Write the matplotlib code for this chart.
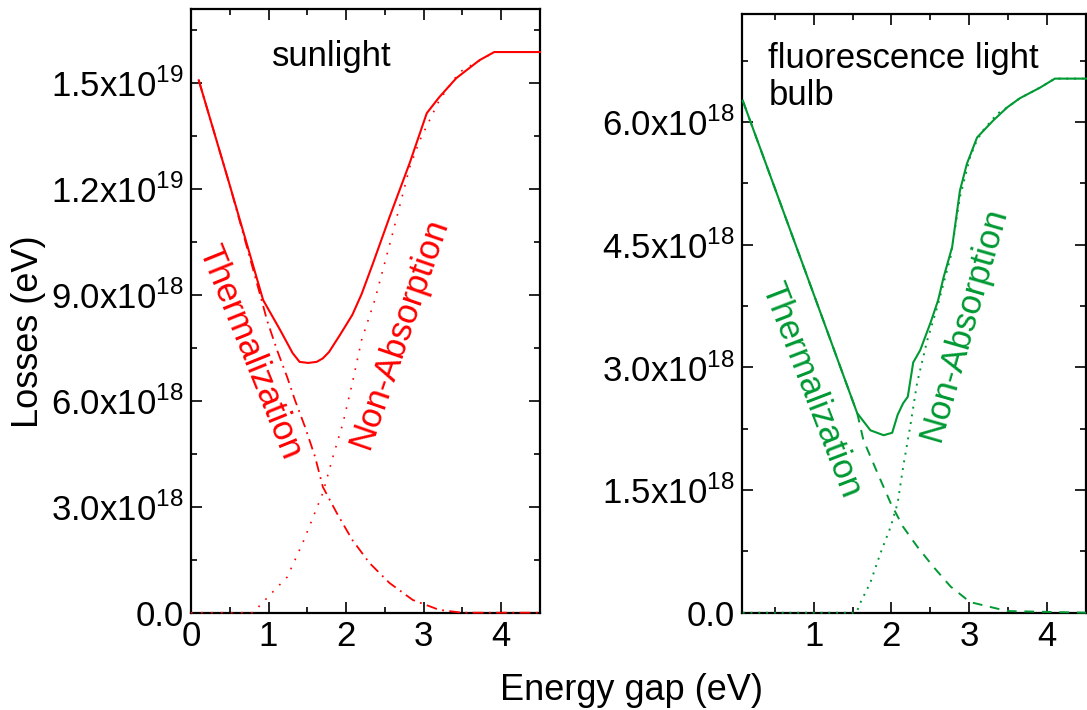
import matplotlib
matplotlib.use("Agg")
import matplotlib.pyplot as plt
from matplotlib.ticker import FixedLocator, FixedFormatter, MultipleLocator

plt.rcParams['font.family'] = ['Liberation Sans', 'DejaVu Sans']
plt.rcParams['mathtext.fontset'] = 'custom'
plt.rcParams['mathtext.rm'] = 'Liberation Sans'

SCALE = 1e18  # valores en unidades de 1e18 eV

# --- Panel izquierdo: luz solar ---
sun_total_x = [0.10, 0.50, 0.93, 1.15, 1.31, 1.40, 1.51, 1.62, 1.70, 1.78, 1.92, 2.08, 2.20,
               2.34, 2.56, 2.82, 3.04, 3.20, 3.42, 3.72, 3.91, 4.50]
sun_total_y = [15.07, 12.10, 8.85, 8.00, 7.35, 7.10, 7.07, 7.10, 7.20, 7.38, 7.86, 8.43, 9.02,
               9.85, 11.20, 12.73, 14.14, 14.59, 15.13, 15.64, 15.87, 15.87]

sun_therm_x = [0.10, 0.50, 0.91, 0.98, 1.11, 1.24, 1.34, 1.47, 1.60, 1.70, 1.88, 2.08, 2.30,
               2.56, 2.86, 3.20, 3.50, 4.50]
sun_therm_y = [15.07, 12.10, 8.85, 8.28, 7.43, 6.67, 6.02, 5.26, 4.41, 3.56, 2.82, 2.06, 1.41,
               0.84, 0.36, 0.08, 0.0, 0.0]

sun_nonabs_x = [0.0, 0.80, 0.99, 1.24, 1.44, 1.57, 1.70, 1.83, 1.96, 2.08, 2.20, 2.37, 2.60,
                2.82, 2.95, 3.20, 3.46, 3.91, 4.50]
sun_nonabs_y = [0.0, 0.0, 0.44, 1.01, 1.97, 2.68, 3.39, 4.41, 5.37, 6.50, 7.72, 8.85, 10.74,
                12.61, 13.37, 14.50, 15.30, 15.87, 15.87]

# --- Panel derecho: bombilla fluorescente ---
fl_total_x = [0.09, 1.03, 1.56, 1.73, 1.90, 2.01, 2.08, 2.15, 2.21, 2.28, 2.37, 2.50, 2.60,
              2.67, 2.78, 2.88, 2.97, 3.10, 3.31, 3.49, 3.65, 3.91, 4.10, 4.50]
fl_total_y = [6.26, 3.82, 2.44, 2.23, 2.17, 2.20, 2.42, 2.56, 2.64, 3.06, 3.21, 3.54, 3.82,
              4.10, 4.47, 5.16, 5.49, 5.81, 6.02, 6.18, 6.29, 6.42, 6.53, 6.53]

fl_therm_x = [0.09, 1.03, 1.56, 1.58, 1.64, 1.82, 1.99, 2.15, 2.33, 2.54, 2.76, 3.01, 3.27,
              3.49, 4.50]
fl_therm_y = [6.26, 3.82, 2.44, 2.36, 2.11, 1.71, 1.34, 1.05, 0.81, 0.56, 0.32, 0.13, 0.07,
              0.02, 0.0]

fl_nonabs_x = [0.09, 1.55, 1.60, 1.73, 1.86, 1.99, 2.08, 2.15, 2.24, 2.33, 2.46, 2.59, 2.76,
               2.88, 3.01, 3.10, 3.18, 3.36, 3.49, 3.65, 3.91, 4.10, 4.50]
fl_nonabs_y = [0.0, 0.0, 0.12, 0.37, 0.73, 1.05, 1.34, 1.78, 2.27, 2.81, 3.33, 3.74, 4.35,
               5.08, 5.57, 5.78, 5.90, 6.10, 6.18, 6.29, 6.42, 6.53, 6.53]

# --- Ticks ---
x_ticks_left = [0, 1, 2, 3, 4]
x_labels_left = ['0', '1', '2', '3', '4']
x_ticks_right = [1, 2, 3, 4]
x_labels_right = ['1', '2', '3', '4']

y_ticks_left = [0, 3, 6, 9, 12, 15]
y_labels_left = ['0.0', r'3.0x10$^{\mathregular{18}}$', r'6.0x10$^{\mathregular{18}}$',
                 r'9.0x10$^{\mathregular{18}}$', r'1.2x10$^{\mathregular{19}}$',
                 r'1.5x10$^{\mathregular{19}}$']
y_ticks_right = [0, 1.5, 3.0, 4.5, 6.0]
y_labels_right = ['0.0', r'1.5x10$^{\mathregular{18}}$', r'3.0x10$^{\mathregular{18}}$',
                  r'4.5x10$^{\mathregular{18}}$', r'6.0x10$^{\mathregular{18}}$']

RED = '#ff0000'
GREEN = '#009933'
FS = 25


def scaled(vals):
    return [v * SCALE for v in vals]


def style_axes(ax, xt, xl, yt, yl, ymin_step):
    ax.xaxis.set_major_locator(FixedLocator(xt))
    ax.xaxis.set_major_formatter(FixedFormatter(xl))
    ax.xaxis.set_minor_locator(MultipleLocator(0.5))
    ax.yaxis.set_major_locator(FixedLocator(scaled(yt)))
    ax.yaxis.set_major_formatter(FixedFormatter(yl))
    ax.yaxis.set_minor_locator(MultipleLocator(ymin_step * SCALE))
    ax.tick_params(which='both', direction='in', top=True, right=True, width=1.2,
                   labelsize=FS, pad=5)
    ax.tick_params(which='major', length=8)
    ax.tick_params(which='minor', length=4.5)
    for s in ax.spines.values():
        s.set_linewidth(1.6)


fig = plt.figure(figsize=(10.87, 7.10), dpi=100)
ax1 = fig.add_axes([191 / 1087, 1 - 612.7 / 710, 349 / 1087, 603.4 / 710])
ax2 = fig.add_axes([742 / 1087, 1 - 612.7 / 710, 344 / 1087, 598.7 / 710])

# panel izquierdo
ax1.plot(sun_total_x, scaled(sun_total_y), color=RED, lw=1.5, clip_on=False, zorder=3)
ax1.plot(sun_therm_x, scaled(sun_therm_y), color=RED, lw=1.3, linestyle=(0, (6, 3, 1, 3)),
         clip_on=False, zorder=3)
ax1.plot(sun_nonabs_x, scaled(sun_nonabs_y), color=RED, lw=1.2, linestyle=(0, (1, 5)),
         clip_on=False, zorder=3)
ax1.set_xlim(0, 4.5)
ax1.set_ylim(0, 17.08 * SCALE)
style_axes(ax1, x_ticks_left, x_labels_left, y_ticks_left, y_labels_left, 1.5)

ax1.text(1.81, 15.74 * SCALE, 'sunlight', fontsize=FS, ha='center', va='center')
ax1.text(0.76, 7.38 * SCALE, 'Thermalization', fontsize=FS, color=RED, rotation=-68,
         ha='center', va='center')
ax1.text(2.68, 7.92 * SCALE, 'Non-Absorption', fontsize=FS, color=RED, rotation=71,
         ha='center', va='center')

# panel derecho
ax2.plot(fl_total_x, scaled(fl_total_y), color=GREEN, lw=1.5, clip_on=False, zorder=3)
ax2.plot(fl_therm_x, scaled(fl_therm_y), color=GREEN, lw=1.4, linestyle=(0, (5, 4)),
         clip_on=False, zorder=3)
ax2.plot(fl_nonabs_x, scaled(fl_nonabs_y), color=GREEN, lw=1.4, linestyle=(0, (1, 3)),
         clip_on=False, zorder=3)
ax2.set_xlim(0.08, 4.5)
ax2.set_ylim(0, 7.32 * SCALE)
style_axes(ax2, x_ticks_right, x_labels_right, y_ticks_right, y_labels_right, 0.75)

ax2.text(0.42, 6.98 * SCALE, 'fluorescence light\nbulb', fontsize=FS, ha='left', va='top',
         linespacing=1.15)
ax2.text(0.96, 2.72 * SCALE, 'Thermalization', fontsize=FS, color=GREEN, rotation=-69,
         ha='center', va='center')
ax2.text(2.93, 3.52 * SCALE, 'Non-Absorption', fontsize=FS, color=GREEN, rotation=74,
         ha='center', va='center')

fig.text(28.5 / 1087, 1 - 332 / 710, 'Losses (eV)', fontsize=26, rotation=90,
         ha='center', va='center')
fig.text(632 / 1087, 1 - 700 / 710, 'Energy gap (eV)', fontsize=26, ha='center',
         va='baseline')

fig.savefig('out.png', dpi=100)
